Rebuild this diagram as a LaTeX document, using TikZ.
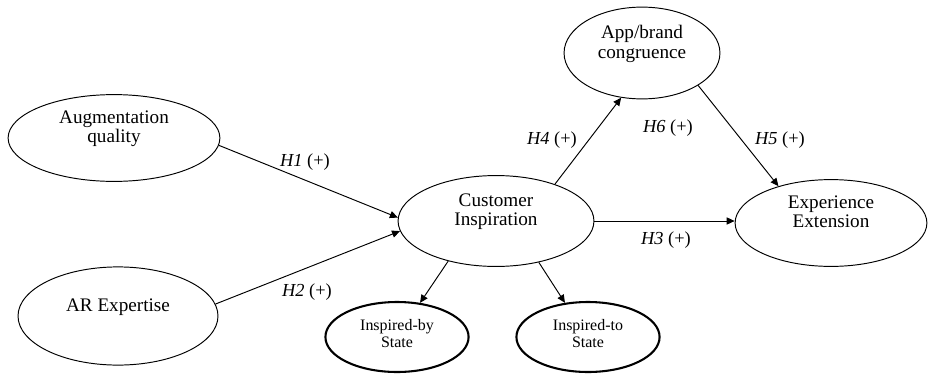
\documentclass[tikz,border=0pt]{standalone}
\usepackage{fontspec}
\setmainfont{Liberation Serif}
\usepackage{tikz}
\usetikzlibrary{arrows.meta, shapes.geometric, positioning}

\begin{document}
\begin{tikzpicture}[
    x=0.022cm, y=-0.022cm,
    >={Triangle[length=5pt, width=4.5pt]},
    construct/.style={ellipse, draw, line width=0.6pt, inner sep=0pt, align=center,
        font=\fontsize{12}{12}\selectfont, text depth=14pt},
    dimension/.style={ellipse, draw, line width=1.3pt, inner sep=0pt, align=center,
        font=\fontsize{10}{10.5}\selectfont, text depth=4pt,
        minimum width=3.15cm, minimum height=1.54cm},
    hyp/.style={font=\fontsize{11.5}{12}\selectfont, inner sep=0pt},
    link/.style={->, line width=0.6pt}
]
\useasboundingbox (0,0) rectangle (928,373);

% constructs
\node [construct, minimum width=4.66cm, minimum height=1.91cm] (aug) at (114,138) {Augmentation\\quality};
\node [construct, minimum width=4.40cm, minimum height=2.16cm] (ar) at (118,316) {AR Expertise};
\node [construct, minimum width=4.31cm, minimum height=2.00cm] (ci) at (496,221) {Customer\\Inspiration};
\node [construct, minimum width=3.43cm, minimum height=2.02cm] (app) at (642,53) {App/brand\\congruence};
\node [construct, minimum width=4.22cm, minimum height=1.91cm] (ee) at (831,223) {Experience\\Extension};

% dimensions of inspiration
\node [dimension] (ib) at (397,337) {Inspired-by\\State};
\node [dimension] (it) at (588,337) {Inspired-to\\State};

% paths
\draw [link] (aug.-4) -- (ci.178);
\draw [link] (ar.7) -- (ci.186);
\draw [link] (ci.east) -- (ci.east -| ee.west);
\draw [link] (ci.32) -- (app.245);
\draw [link] (app.-30) -- (ee.145);
\draw [link] (ci.220) -- (ib.56);
\draw [link] (ci.-44) -- (it.124);

% hypotheses
\node [hyp] (h1) at (305,162) {\textit{H1} (+)};
\node [hyp] (h2) at (307,292) {\textit{H2} (+)};
\node [hyp] (h3) at (666,240) {\textit{H3} (+)};
\node [hyp] (h4) at (552,140) {\textit{H4} (+)};
\node [hyp] (h5) at (780,140) {\textit{H5} (+)};
\node [hyp] (h6) at (668,128) {\textit{H6} (+)};
\end{tikzpicture}
\end{document}
